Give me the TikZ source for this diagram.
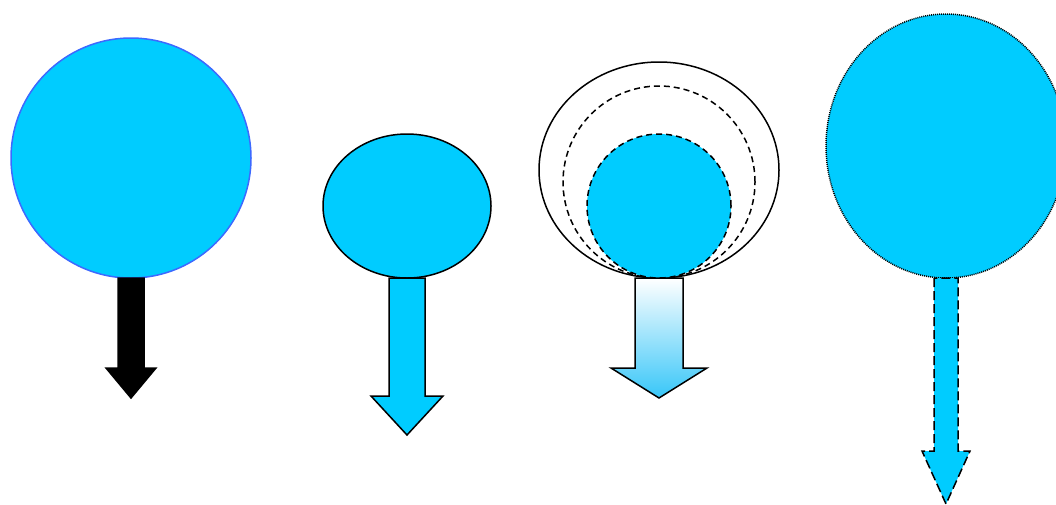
\documentclass[tikz,border=0pt]{standalone}
\usepackage{tikz}
\usetikzlibrary{shapes.geometric}

\definecolor{balloon}{RGB}{0,204,255}
\definecolor{rimblue}{RGB}{60,105,255}
\definecolor{fadeblue}{RGB}{55,198,248}

% block arrow hanging below a node: node, shaft half width, shaft length, head half width, head length
\newcommand{\blockarrow}[6][]{%
  \draw[#1] (#2.south) ++(-#3,0) -- ++(0,#4) -- ++(#3-#5,0) -- ++(#5,#6)
    -- ++(#5,-#6) -- ++(#3-#5,0) -- ++(0,-#4) -- cycle;}

\begin{document}
\begin{tikzpicture}[
  x=1pt, y=-1pt, line width=1.5pt,
  every node/.style={ellipse, inner sep=0pt, outer sep=0pt},
]
\useasboundingbox (0,0) rectangle (1056,504);
\clip (0,0) rectangle (1056,504);

% Balloon 1 - circle with blue rim, black arrow
\node[draw=rimblue, fill=balloon, minimum width=240pt, minimum height=240pt] (b1) at (131,158) {};
\blockarrow[fill=black, draw=black]{b1}{13}{90}{25}{30}

% Balloon 2 - ellipse, cyan arrow
\node[draw, fill=balloon, minimum width=168pt, minimum height=144pt] (b2) at (407,206) {};
\blockarrow[fill=balloon, draw=black]{b2}{18}{118}{36}{39}

% Balloon 3 - nested outlines, shaded arrow
\node[draw, minimum width=240pt, minimum height=216pt] (b3out) at (659,170) {};
\node[draw, dash pattern=on 6pt off 4pt, minimum width=192pt, minimum height=192pt] (b3mid) at (659,182) {};
\node[draw, fill=balloon, dash pattern=on 6pt off 4pt, minimum width=144pt, minimum height=144pt] (b3) at (659,206) {};
\blockarrow[draw=black, top color=white, bottom color=fadeblue]{b3}{24}{90}{48}{30}

% Balloon 4 - dotted rim, dashed arrow
\node[draw, fill=balloon, dash pattern=on 1pt off 1pt, minimum width=240pt, minimum height=264pt] (b4) at (946,146) {};
\blockarrow[fill=balloon, draw=black, dash pattern=on 9pt off 4pt]{b4}{12}{173}{24}{53}

\end{tikzpicture}
\end{document}
